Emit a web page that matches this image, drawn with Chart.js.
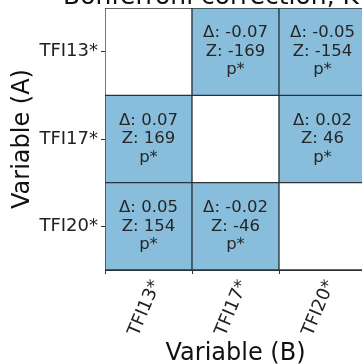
<!DOCTYPE html>
<html>
<head>
<meta charset="utf-8">
<script src="https://cdn.jsdelivr.net/npm/chart.js@4/dist/chart.umd.min.js"></script>
<style>
html,body{margin:0;padding:0;background:#fff;overflow:hidden;}
#wrap{width:380px;height:364px;position:relative;}
</style>
</head>
<body>
<div id="wrap"><canvas id="c"></canvas></div>
<script>
const titleText = "Bonferroni correction, K";
const rowLabels = ["TFI13*", "TFI17*", "TFI20*"];
const colLabels = ["TFI13*", "TFI17*", "TFI20*"];
const deltaVals = [
  [null, -0.07, -0.05],
  [0.07, null, 0.02],
  [0.05, -0.02, null]
];
const zVals = [
  [null, -169, -154],
  [169, null, 46],
  [154, -46, null]
];
const pVals = [
  [null, "p*", "p*"],
  ["p*", null, "p*"],
  ["p*", "p*", null]
];

const FONT = "'DejaVu Sans', sans-serif";
const cellBlue = "#88bedc";
const edge = "#2a333a";

const datasets = rowLabels.map((r, i) => ({
  label: r,
  data: colLabels.map(() => [i, i + 1]),
  backgroundColor: colLabels.map((c, j) => deltaVals[i][j] === null ? "#ffffff" : cellBlue),
  borderColor: edge,
  borderWidth: 1,
  borderSkipped: false,
  grouped: false,
  barPercentage: 1,
  categoryPercentage: 1
}));

const cellText = {
  id: "cellText",
  afterDatasetsDraw(chart) {
    const ctx = chart.ctx;
    ctx.save();
    ctx.fillStyle = "#262626";
    ctx.font = "16.5px " + FONT;
    ctx.textAlign = "center";
    ctx.textBaseline = "middle";
    chart.data.datasets.forEach((ds, i) => {
      const meta = chart.getDatasetMeta(i);
      meta.data.forEach((el, j) => {
        if (deltaVals[i][j] === null) return;
        const cx = el.x;
        const cy = (el.y + el.base) / 2;
        const d = deltaVals[i][j].toFixed(2);
        ctx.fillText("Δ: " + d, cx, cy - 18.5);
        ctx.fillText("Z: " + zVals[i][j], cx, cy);
        ctx.fillText(pVals[i][j], cx, cy + 18.5);
      });
    });
    ctx.restore();
  },
  afterDraw(chart) {
    const ctx = chart.ctx;
    ctx.save();
    ctx.fillStyle = "#111";
    ctx.font = "25px " + FONT;
    ctx.textAlign = "left";
    ctx.textBaseline = "alphabetic";
    ctx.fillText(titleText, chart.chartArea.left - 42, 4);
    ctx.restore();
  }
};

new Chart(document.getElementById("c"), {
  type: "bar",
  data: { labels: colLabels, datasets },
  plugins: [cellText],
  options: {
    responsive: true,
    maintainAspectRatio: false,
    animation: false,
    layout: { padding: { top: 8, right: 14, left: 0, bottom: 0 } },
    plugins: { legend: { display: false }, tooltip: { enabled: false }, title: { display: false } },
    scales: {
      x: {
        type: "category",
        offset: true,
        grid: { display: true, drawOnChartArea: false, drawTicks: true, tickLength: 4, color: "#333" },
        border: { display: true, color: edge },
        ticks: { color: "#222", font: { family: FONT, size: 18 }, minRotation: 67, maxRotation: 67, padding: 3, labelOffset: 8 },
        title: { display: true, text: "Variable (B)", color: "#111", font: { family: FONT, size: 24, lineHeight: 0.85 }, padding: { top: 0, bottom: 0 } },
        afterFit(s) { s.height = 94; s.paddingLeft = 0; s.paddingRight = 0; }
      },
      y: {
        type: "linear",
        min: 0,
        max: 3,
        reverse: true,
        afterBuildTicks(s) { s.ticks = rowLabels.map((_, i) => ({ value: i + 0.5 })); },
        grid: { display: true, drawOnChartArea: false, drawTicks: true, tickLength: 4, color: "#333" },
        border: { display: true, color: edge },
        ticks: { color: "#222", font: { family: FONT, size: 18 }, padding: 3,
          callback: (v) => rowLabels[Math.floor(v)] },
        title: { display: true, text: "Variable (A)", color: "#111", font: { family: FONT, size: 24 }, padding: { top: 8, bottom: 4 } },
        afterFit(s) { s.width = 105; s.paddingTop = 0; s.paddingBottom = 0; }
      }
    }
  }
});
</script>
</body>
</html>
